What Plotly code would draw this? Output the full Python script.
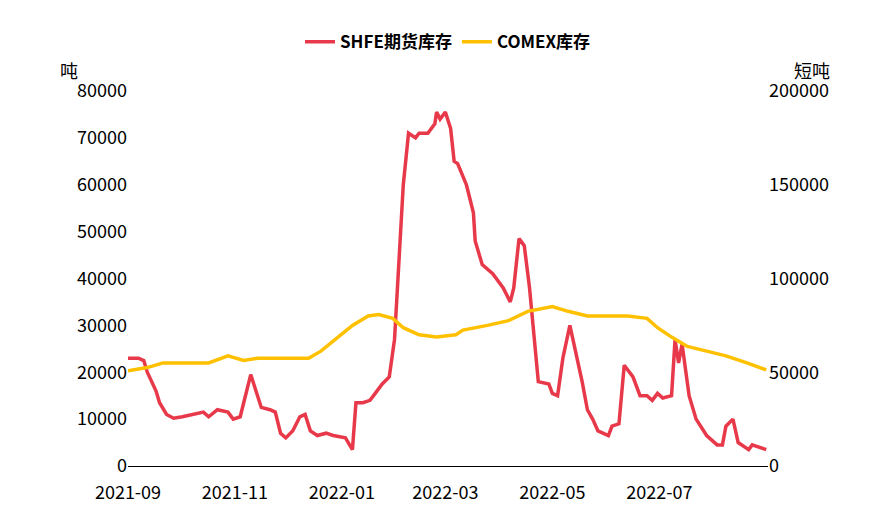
import plotly.graph_objects as go

# SHFE futures inventory (tonnes)
shfe_dates = ["2021-09-01", "2021-09-07", "2021-09-10", "2021-09-12", "2021-09-17", "2021-09-19",
              "2021-09-23", "2021-09-27", "2021-10-02", "2021-10-08", "2021-10-14", "2021-10-17",
              "2021-10-22", "2021-10-28", "2021-10-31", "2021-11-04", "2021-11-07", "2021-11-10",
              "2021-11-13", "2021-11-16", "2021-11-21", "2021-11-24", "2021-11-27", "2021-11-30",
              "2021-12-04", "2021-12-08", "2021-12-11", "2021-12-14", "2021-12-18", "2021-12-23",
              "2021-12-27", "2022-01-03", "2022-01-07", "2022-01-09", "2022-01-13", "2022-01-17",
              "2022-01-20", "2022-01-24", "2022-01-28", "2022-01-31", "2022-02-05", "2022-02-08",
              "2022-02-12", "2022-02-14", "2022-02-19", "2022-02-23", "2022-02-24", "2022-02-26",
              "2022-03-01", "2022-03-04", "2022-03-06", "2022-03-08", "2022-03-13", "2022-03-17",
              "2022-03-18", "2022-03-22", "2022-03-28", "2022-04-03", "2022-04-07", "2022-04-09",
              "2022-04-12", "2022-04-15", "2022-04-18", "2022-04-21", "2022-04-23", "2022-04-29",
              "2022-05-01", "2022-05-04", "2022-05-07", "2022-05-11", "2022-05-14", "2022-05-18",
              "2022-05-21", "2022-05-24", "2022-05-27", "2022-06-02", "2022-06-04", "2022-06-08",
              "2022-06-11", "2022-06-16", "2022-06-20", "2022-06-24", "2022-06-27", "2022-06-30",
              "2022-07-03", "2022-07-08", "2022-07-10", "2022-07-12", "2022-07-14", "2022-07-18",
              "2022-07-22", "2022-07-28", "2022-08-03", "2022-08-06", "2022-08-08", "2022-08-12",
              "2022-08-15", "2022-08-19", "2022-08-21", "2022-08-23", "2022-08-27", "2022-08-31"]
shfe_values = [23000, 23000, 22500, 20000, 16000, 13500,
               11000, 10200, 10500, 11000, 11500, 10500,
               12000, 11500, 10000, 10500, 15000, 19500,
               16000, 12500, 12000, 11500, 7000, 6000,
               7500, 10500, 11000, 7500, 6500, 7000,
               6500, 6000, 3500, 13500, 13500, 14000,
               15500, 17500, 19000, 27000, 60000, 71000,
               70000, 71000, 71000, 73000, 75500, 74000,
               75500, 72000, 65000, 64500, 60000, 54000,
               48000, 43000, 41000, 38000, 35000, 38000,
               48500, 47000, 38000, 25000, 18000, 17500,
               15500, 15000, 23000, 30000, 25000, 18000,
               12000, 10000, 7500, 6500, 8500, 9000,
               21500, 19000, 15000, 15000, 14000, 15500,
               14500, 15000, 27000, 22000, 26000, 15000,
               10000, 6500, 4500, 4500, 8500, 10000,
               5000, 4000, 3500, 4500, 4000, 3500]

# COMEX inventory (short tons)
comex_dates = ["2021-09-01", "2021-09-12", "2021-09-21", "2021-10-17", "2021-10-28", "2021-11-06",
               "2021-11-14", "2021-12-13", "2021-12-20", "2021-12-25", "2021-12-31", "2022-01-07",
               "2022-01-16", "2022-01-22", "2022-01-30", "2022-02-05", "2022-02-14", "2022-02-24",
               "2022-03-07", "2022-03-11", "2022-03-25", "2022-04-06", "2022-04-17", "2022-05-01",
               "2022-05-10", "2022-05-21", "2022-06-02", "2022-06-13", "2022-06-24", "2022-06-30",
               "2022-07-08", "2022-07-17", "2022-07-28", "2022-08-08", "2022-08-20", "2022-08-31"]
comex_values = [50750, 52500, 55000, 55000, 58750, 56250,
                57500, 57500, 61250, 65000, 70000, 75000,
                80000, 80750, 78750, 73750, 70000, 68750,
                70000, 72500, 75000, 77500, 82500, 85000,
                82500, 80000, 80000, 80000, 78750, 73750,
                68750, 63750, 61250, 58750, 55000, 51250]

tick_dates = ["2021-09-01", "2021-11-01", "2022-01-01", "2022-03-01", "2022-05-01", "2022-07-01"]
tick_text = ["2021-09", "2021-11", "2022-01", "2022-03", "2022-05", "2022-07"]

fig = go.Figure()
fig.add_trace(go.Scatter(x=shfe_dates, y=shfe_values, name="<b>SHFE期货库存</b>", mode="lines",
                         line=dict(color="#E8394A", width=3.5)))
fig.add_trace(go.Scatter(x=comex_dates, y=comex_values, name="<b>COMEX库存</b>", mode="lines",
                         line=dict(color="#FFC000", width=3.5), yaxis="y2"))

fig.update_layout(
    width=881, height=506, template="plotly_white",
    font=dict(family="Noto Sans CJK SC", size=18, color="#000"),
    margin=dict(l=120, r=121, t=83, b=48, autoexpand=False),
    showlegend=True,
    legend=dict(orientation="h", x=0.5, xanchor="center", y=1.13, yanchor="middle",
                font=dict(size=17, color="#000"), bgcolor="rgba(0,0,0,0)"),
    xaxis=dict(type="date", range=["2021-09-01", "2022-09-01"], tickvals=tick_dates,
               ticktext=tick_text, showgrid=False, showline=True, linecolor="#000",
               linewidth=1, ticks="", zeroline=False, ticklabelstandoff=10),
    yaxis=dict(range=[0, 80000], dtick=10000, showgrid=False, zeroline=False, tickformat="d"),
    yaxis2=dict(range=[0, 200000], dtick=50000, overlaying="y", side="right",
                showgrid=False, zeroline=False, tickformat="d"),
    annotations=[
        dict(text="吨", xref="paper", yref="paper", x=-0.109, y=1.096, showarrow=False,
             font=dict(size=18)),
        dict(text="短吨", xref="paper", yref="paper", x=1.10, y=1.096, showarrow=False,
             font=dict(size=18)),
    ],
)

fig.write_html("out.html")
